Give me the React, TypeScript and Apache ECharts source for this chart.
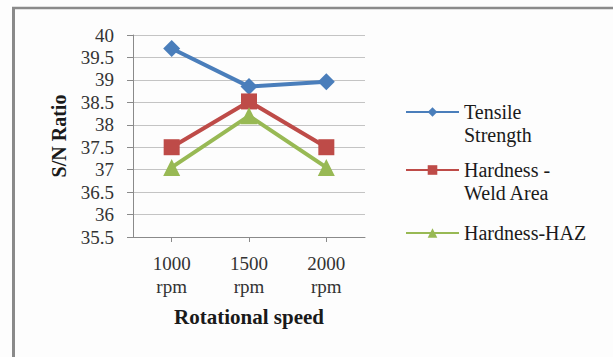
import React, { useEffect, useRef } from "react";
import * as echarts from "echarts";

const categories = ["1000\nrpm", "1500\nrpm", "2000\nrpm"];
const tensileStrength = [39.7, 38.85, 38.96];
const hardnessWeldArea = [37.5, 38.52, 37.5];
const hardnessHAZ = [37.05, 38.2, 37.05];
const seriesNames = ["Tensile\nStrength", "Hardness -\nWeld Area", "Hardness-HAZ"];
const yMin = 35.5;
const yMax = 40;
const yInterval = 0.5;

const FONT = "Liberation Serif";

export default function App() {
  const ref = useRef<HTMLDivElement>(null);
  useEffect(() => {
    document.body.style.margin = "0";
    if (!ref.current) return;
    const chart = echarts.init(ref.current, null, { renderer: "svg" });
    const legendBase = {
      orient: "vertical",
      left: 405,
      padding: 0,
      itemWidth: 53,
      itemHeight: 12,
      selectedMode: false,
      textStyle: {
        fontFamily: FONT,
        fontSize: 20,
        lineHeight: 23,
        color: "#1a1a1a",
      },
      // two-line names get an empty first line so the icon sits on their first line
      formatter: (name: string) => (name.indexOf("\n") >= 0 ? "\n" + name : name),
    };
    chart.setOption({
      animation: false,
      backgroundColor: "#fdfdfd",
      textStyle: { fontFamily: FONT },
      graphic: [
        {
          type: "line",
          shape: { x1: 13.5, y1: 8, x2: 13.5, y2: 357 },
          style: { stroke: "#8a8a8a", lineWidth: 3 },
        },
        {
          type: "line",
          shape: { x1: 12, y1: 8, x2: 613, y2: 8 },
          style: { stroke: "#8a8a8a", lineWidth: 2.5 },
        },
      ],
      grid: { left: 133, top: 35, right: 248, bottom: 120 },
      legend: [
        { ...legendBase, top: 77.5, data: [seriesNames[0]] },
        { ...legendBase, top: 135.5, data: [seriesNames[1]] },
        { ...legendBase, top: 221.5, data: [seriesNames[2]] },
      ],
      xAxis: {
        type: "category",
        data: categories,
        boundaryGap: true,
        name: "Rotational speed",
        nameLocation: "middle",
        nameGap: 69,
        nameTextStyle: { fontFamily: FONT, fontSize: 21, fontWeight: "bold", color: "#1a1a1a" },
        axisLine: { lineStyle: { color: "#8a8a8a", width: 1 } },
        axisTick: { show: true, alignWithLabel: true, length: 5, lineStyle: { color: "#8a8a8a" } },
        axisLabel: {
          fontFamily: FONT,
          fontSize: 19,
          lineHeight: 23,
          color: "#333",
          margin: 15,
        },
      },
      yAxis: {
        type: "value",
        min: yMin,
        max: yMax,
        interval: yInterval,
        name: "S/N Ratio",
        nameLocation: "middle",
        nameGap: 64,
        nameTextStyle: { fontFamily: FONT, fontSize: 20, fontWeight: "bold", color: "#1a1a1a" },
        axisLine: { show: true, lineStyle: { color: "#8a8a8a", width: 1 } },
        axisTick: { show: true, length: 6, lineStyle: { color: "#8a8a8a" } },
        axisLabel: { fontFamily: FONT, fontSize: 19, lineHeight: 22, color: "#333", margin: 19 },
        splitLine: { show: true, lineStyle: { color: "#c4c4c4", width: 1 } },
      },
      series: [
        {
          name: seriesNames[0],
          type: "line",
          data: tensileStrength,
          symbol: "diamond",
          symbolSize: 17,
          lineStyle: { color: "#4a7ebb", width: 4 },
          itemStyle: { color: "#4a7ebb" },
        },
        {
          name: seriesNames[1],
          type: "line",
          data: hardnessWeldArea,
          symbol: "rect",
          symbolSize: 16,
          lineStyle: { color: "#be4b48", width: 4 },
          itemStyle: { color: "#be4b48" },
        },
        {
          name: seriesNames[2],
          type: "line",
          data: hardnessHAZ,
          symbol: "triangle",
          symbolSize: 17,
          lineStyle: { color: "#98b954", width: 4 },
          itemStyle: { color: "#98b954" },
        },
      ],
    });
    return () => chart.dispose();
  }, []);
  return <div ref={ref} style={{ width: 613, height: 357 }} />;
}
